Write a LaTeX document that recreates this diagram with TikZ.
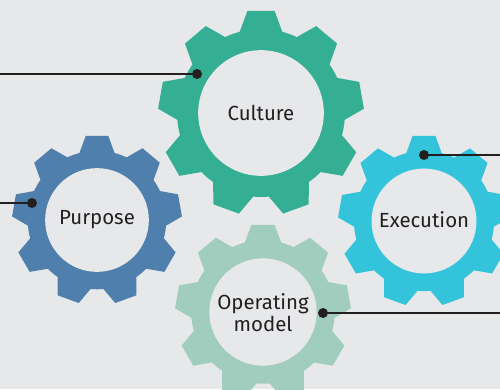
\documentclass[tikz,border=0pt]{standalone}
\usepackage{fontspec}
\setmainfont{Fira Sans}
\definecolor{bg}{HTML}{E7E8EA}
\definecolor{culturec}{HTML}{35AF93}
\definecolor{purposec}{HTML}{4F7FAD}
\definecolor{executionc}{HTML}{33C3DB}
\definecolor{operatingc}{HTML}{A0CDBD}
\definecolor{inkc}{HTML}{231F20}
\newcommand\mkgear[4]{%
\begin{scope}[shift={(#1,#2)}]
\pgfmathsetmacro\gR{#3}\pgfmathsetmacro\gr{0.815*#3}\pgfmathsetmacro\gh{0.61*#3}
\fill[#4] (75.3:\gr bp) \foreach \i in {0,...,8}{ -- ({90+40*\i-7.6}:\gR bp) -- ({90+40*\i+7.6}:\gR bp) -- ({90+40*\i+14.7}:\gr bp) arc[start angle={90+40*\i+14.7}, delta angle=10.6, radius=\gr bp]} -- cycle;
\fill[bg] (0,0) circle[radius=\gh bp];
\end{scope}}
\tikzset{
  lbl/.style={text=inkc, align=center, font=\fontsize{20.5}{22}\selectfont, inner sep=0pt},
  dotnode/.style={circle, fill=inkc, inner sep=0pt, minimum size=10bp},
  conn/.style={draw=inkc, line width=1.3bp}
}
\begin{document}
\begin{tikzpicture}[x=1bp,y=1bp]
\useasboundingbox (0,0) rectangle (500,389);
\fill[bg] (0,0) rectangle (500,389);
\mkgear{261}{276}{103}{culturec}
\mkgear{97}{169}{85}{purposec}
\mkgear{424}{168}{86}{executionc}
\mkgear{263}{77}{88}{operatingc}
\node[lbl] (culture) at (261,276) {Culture};
\node[lbl] (purpose) at (97,169) {Purpose};
\node[lbl] (execution) at (424,169) {Execution};
\node[lbl] (operating) at (263,76) {Operating\\model};
\coordinate (ec) at (0,315);
\coordinate (ep) at (0,186);
\coordinate (ee) at (500,234);
\coordinate (eo) at (500,76);
\node[dotnode] (dc) at (197,315) {};
\node[dotnode] (dp) at (32,186) {};
\node[dotnode] (de) at (424,234) {};
\node[dotnode] (do) at (323,76) {};
\draw[conn] (dc.center) -- (ec);
\draw[conn] (dp.center) -- (ep);
\draw[conn] (de.center) -- (ee);
\draw[conn] (do.center) -- (eo);
\end{tikzpicture}
\end{document}
